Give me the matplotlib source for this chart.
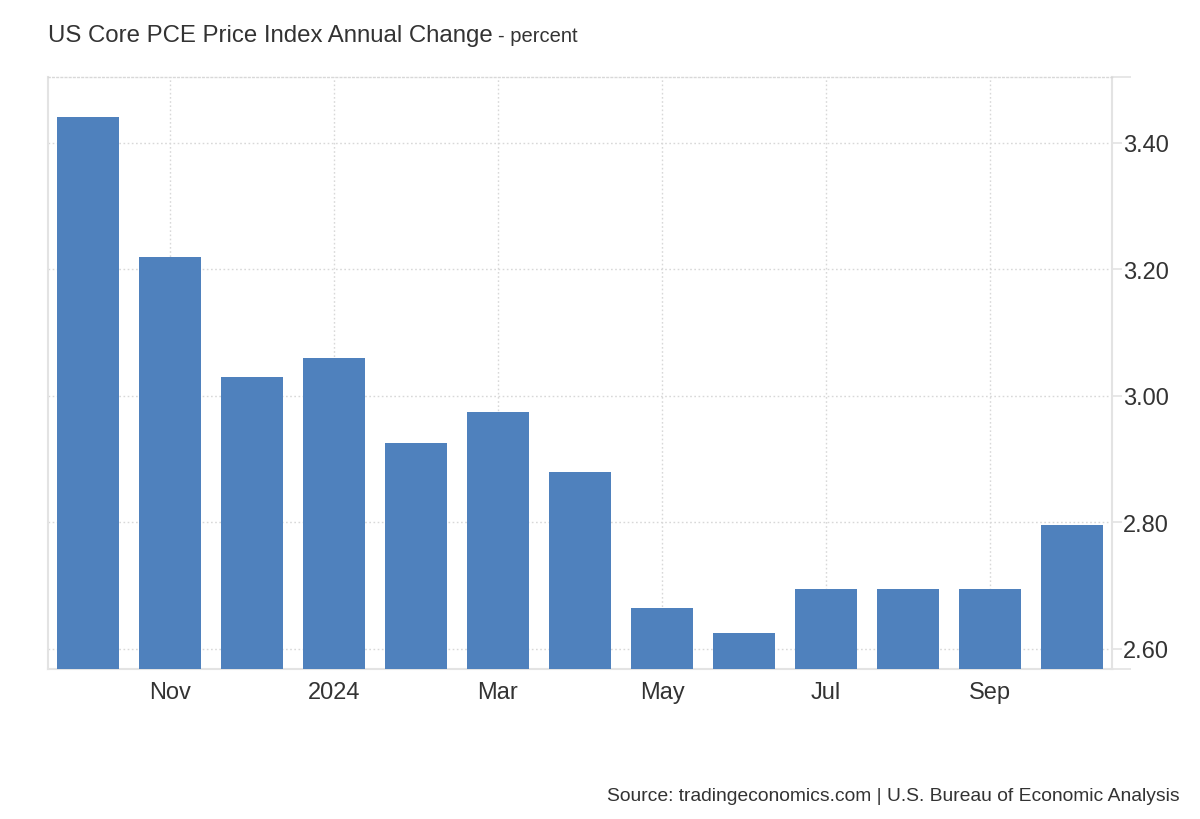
import matplotlib
matplotlib.use("Agg")
import matplotlib.pyplot as plt

months = ["Oct", "Nov", "Dec", "2024", "Feb", "Mar", "Apr", "May", "Jun", "Jul", "Aug", "Sep", "Oct"]
values = [3.44, 3.22, 3.03, 3.06, 2.925, 2.975, 2.88, 2.665, 2.625, 2.695, 2.695, 2.695, 2.795]
yticks = [2.60, 2.80, 3.00, 3.20, 3.40]
xtick_idx = [1, 3, 5, 7, 9, 11]

plt.rcParams['font.family'] = ['Liberation Sans', 'DejaVu Sans']
TXT = '#333333'
GRID = '#d8d8d8'
SPINE = '#e3e3e3'
BAR = '#4f81bd'

fig = plt.figure(figsize=(12, 8.2), dpi=100)
ax = fig.add_axes([0.04, 0.183, 0.8867, 0.722])

x = list(range(len(values)))
ymin, ymax = 2.568, 3.504
ax.bar(x, [v - ymin for v in values], bottom=ymin, width=0.756, color=BAR, zorder=3)

ax.set_xlim(-0.484, len(values) - 1 + 0.484)
ax.set_ylim(ymin, ymax)

ax.set_xticks(xtick_idx)
ax.set_xticklabels([months[i] for i in xtick_idx])
ax.tick_params(axis='x', length=0, pad=9, labelsize=17, labelcolor=TXT)

ax.yaxis.tick_right()
ax.set_yticks(yticks)
ax.set_yticklabels([f"{v:.2f}" for v in yticks])
ax.set_yticks([ymin, ymax], minor=True)
ax.tick_params(axis='y', which='major', length=7, width=1.2, color=SPINE, pad=1,
               labelsize=17, labelcolor=TXT)
ax.tick_params(axis='y', which='minor', length=14, width=1.2, color=SPINE)

ax.grid(True, which='major', axis='both', linestyle=(0, (1.2, 1.8)), color=GRID, linewidth=1.0, zorder=0)
ax.set_axisbelow(True)

for s in ['left', 'right', 'bottom']:
    ax.spines[s].set_color(SPINE)
    ax.spines[s].set_linewidth(1.5)
ax.spines['top'].set_color(GRID)
ax.spines['top'].set_linestyle((0, (1.2, 1.8)))
ax.spines['top'].set_linewidth(1.0)

fig.text(0.04, 0.9555, "US Core PCE Price Index Annual Change", fontsize=17.3, color=TXT, va='center', ha='left')
t = fig.texts[-1]
fig.canvas.draw()
bb = t.get_window_extent()
fig.text(bb.x1 / fig.bbox.width + 0.004, 0.9555, "- percent", fontsize=14.5, color=TXT, va='center', ha='left')

fig.text(0.983, 0.029, "Source: tradingeconomics.com | U.S. Bureau of Economic Analysis",
         fontsize=13.9, color=TXT, ha='right', va='center')

fig.savefig("out.png", dpi=100)
